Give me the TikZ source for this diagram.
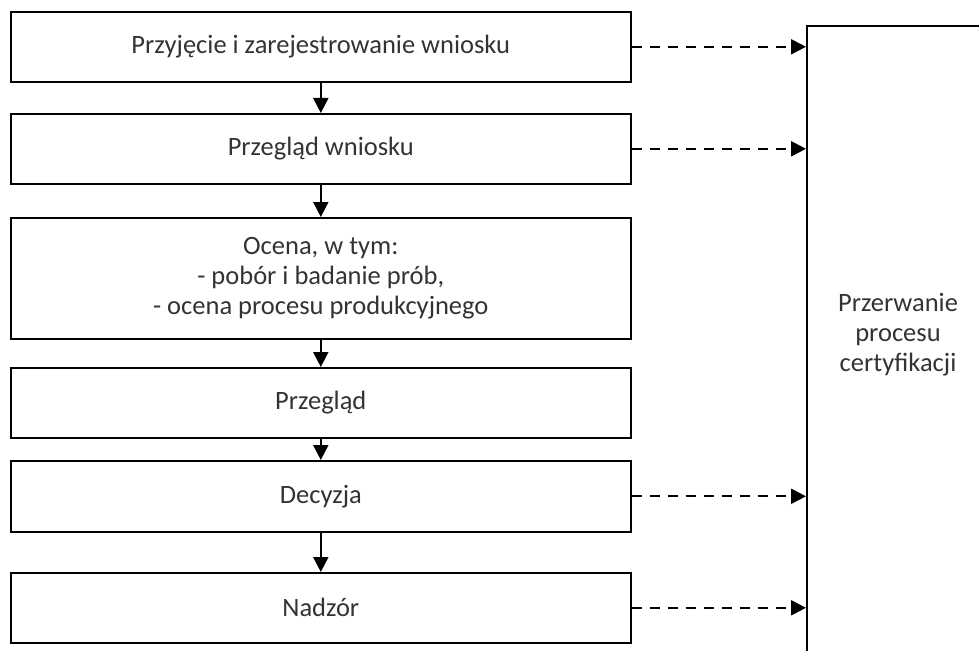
\documentclass[tikz,border=0pt]{standalone}
\usepackage{fontspec}
\setmainfont{Carlito}
\usetikzlibrary{arrows.meta}
\begin{document}
\begin{tikzpicture}[x=1pt,y=-1pt,
  krok/.style={draw,line width=1.6pt,minimum width=620pt,anchor=north west,align=center,inner sep=0pt,text=black!80,font=\fontsize{26.5}{30}\selectfont},
  dalej/.style={-{Triangle[length=15pt,width=15pt]},line width=2pt},
  przerwij/.style={-{Triangle[length=15pt,width=15pt]},line width=2.2pt,dash pattern=on 10pt off 8pt}]
\useasboundingbox (0,0) rectangle (979,650);

\node[krok,minimum height=70pt] (przyjecie) at (10,11) {Przyjęcie i zarejestrowanie wniosku};
\node[krok,minimum height=70pt] (przeglad1) at (10,113) {Przegląd wniosku};
\node[krok,minimum height=121pt] (ocena) at (10,217) {Ocena, w tym:\\- pobór i badanie prób,\\- ocena procesu produkcyjnego};
\node[krok,minimum height=70pt] (przeglad2) at (10,367) {Przegląd};
\node[krok,minimum height=71pt] (decyzja) at (10,460) {Decyzja};
\node[krok,minimum height=70pt] (nadzor) at (10,572) {Nadzór};

% prostokat po prawej wychodzi poza kadr
\node[draw,line width=1.6pt,anchor=north west,minimum width=200pt,minimum height=650pt] (przerwanie) at (806,25) {};
\node[align=center,text=black!80,font=\fontsize{26.5}{30}\selectfont] (przerwanietxt) at (898,335) {Przerwanie\\procesu\\certyfikacji};

\draw[dalej] (przyjecie.south) -- (przeglad1.north);
\draw[dalej] (przeglad1.south) -- (ocena.north);
\draw[dalej] (ocena.south) -- (przeglad2.north);
\draw[dalej] (przeglad2.south) -- (decyzja.north);
\draw[dalej] (decyzja.south) -- (nadzor.north);

\draw[przerwij] (przyjecie.east) -- (przyjecie.east -| przerwanie.west);
\draw[przerwij] (przeglad1.east) -- (przeglad1.east -| przerwanie.west);
\draw[przerwij] (decyzja.east) -- (decyzja.east -| przerwanie.west);
\draw[przerwij] (nadzor.east) -- (nadzor.east -| przerwanie.west);
\end{tikzpicture}
\end{document}
